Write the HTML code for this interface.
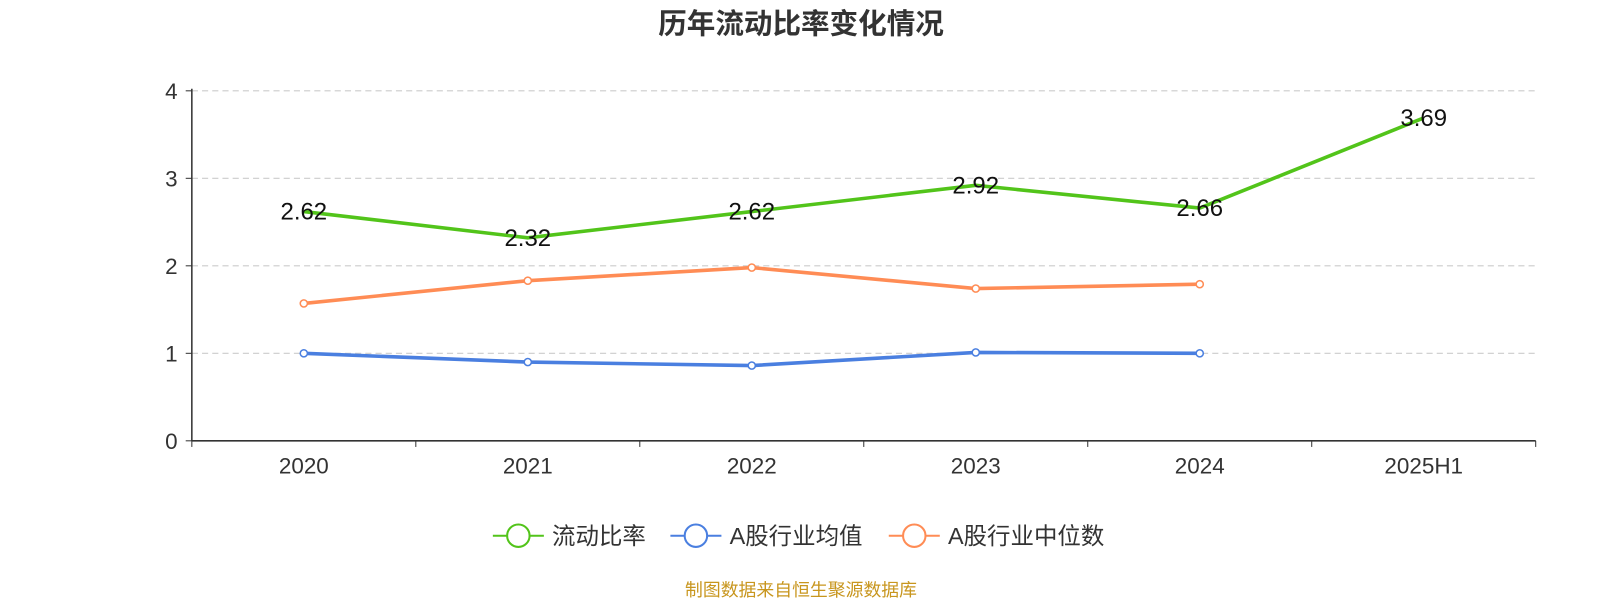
<!DOCTYPE html>
<html><head><meta charset="utf-8"><style>
body{margin:0;background:#fff;}
svg text{font-family:"Liberation Sans","Noto Sans CJK SC",sans-serif;}
</style></head><body>
<svg id="chart" width="1600" height="600" xmlns="http://www.w3.org/2000/svg">
<g transform="scale(1.0204)">
<text x="785" y="33" text-anchor="middle" font-size="28" font-weight="bold" fill="#333">历年流动比率变化情况</text>
<g id="grid"></g><g id="axes"></g><g id="series"></g><g id="legend"></g>
<text x="785" y="584" text-anchor="middle" font-size="17.5" fill="#c8961e">制图数据来自恒生聚源数据库</text>
</g>
</svg>
<script>
const categories=["2020","2021","2022","2023","2024","2025H1"];
const ratio=[2.62,2.32,2.62,2.92,2.66,3.69];
const avgVals=[1.00,0.90,0.86,1.01,1.00];
const medVals=[1.57,1.83,1.98,1.74,1.79];
const yTicks=[0,1,2,3,4];
const seriesNames=["流动比率","A股行业均值","A股行业中位数"];
const colors=["#52c41a","#4a7fe0","#ff8c55"];
const X0=188,X1=1505,Y0=432,Y1=89,YMAX=4;
const NS="http://www.w3.org/2000/svg";
const bw=(X1-X0)/categories.length;
const xs=i=>X0+bw*(i+0.5);
const ys=v=>Y0-(v/YMAX)*(Y0-Y1);
function mk(t,a,p){const e=document.createElementNS(NS,t);for(const k in a)e.setAttribute(k,a[k]);p.appendChild(e);return e;}
const grid=document.getElementById('grid'),axes=document.getElementById('axes'),ser=document.getElementById('series'),leg=document.getElementById('legend');
yTicks.forEach(v=>{
 if(v>0){const g=mk('line',{x1:X0,x2:X1,y1:ys(v),y2:ys(v),stroke:'#ccc','stroke-dasharray':'6,4'},grid);
 
 }
 const t=mk('text',{x:X0-14,y:ys(v)+8,'text-anchor':'end','font-size':22,fill:'#333'},axes);t.textContent=v;
 
 
 mk('line',{x1:X0-6,x2:X0,y1:ys(v),y2:ys(v),stroke:'#333'},axes);
});
mk('line',{x1:X0,x2:X0,y1:Y1-2,y2:Y0,stroke:'#333','stroke-width':1.5},axes);
mk('line',{x1:X0,x2:X1,y1:Y0,y2:Y0,stroke:'#333','stroke-width':1.5},axes);
for(let i=0;i<=categories.length;i++)mk('line',{x1:X0+bw*i,x2:X0+bw*i,y1:Y0,y2:Y0+6,stroke:'#333'},axes);
categories.forEach((c,i)=>{const t=mk('text',{x:xs(i),y:Y0+32,'text-anchor':'middle','font-size':22,fill:'#333'},axes);t.textContent=c;
 
 });
function line(vals,col,name,markers){
 const p=mk('polyline',{points:vals.map((v,i)=>xs(i)+','+ys(v)).join(' '),fill:'none',stroke:col,'stroke-width':3.5},ser);
 
 
 if(markers)vals.forEach((v,i)=>{const c=mk('circle',{cx:xs(i),cy:ys(v),r:3.5,fill:'#fff',stroke:col,'stroke-width':1.5},ser);
  
  });
}
line(medVals,colors[2],'industry-median',true);
line(avgVals,colors[1],'industry-average',true);
line(ratio,colors[0],'current-ratio',false);
ratio.forEach((v,i)=>{const t=mk('text',{x:xs(i),y:ys(v)+8,'text-anchor':'middle','font-size':23.5,fill:'#111'},ser);t.textContent=v.toFixed(2);
 
 });
const lx=[483,657,871];
seriesNames.forEach((n,i)=>{
 const g=mk('g',{},leg);
 
 
 mk('line',{x1:lx[i],x2:lx[i]+50,y1:525,y2:525,stroke:colors[i],'stroke-width':2},g);
 mk('circle',{cx:lx[i]+25,cy:525,r:11,fill:'#fff',stroke:colors[i],'stroke-width':2},g);
 const t=mk('text',{x:lx[i]+58,y:533,'font-size':23,fill:'#333'},g);t.textContent=n;
});
</script>
</body></html>
